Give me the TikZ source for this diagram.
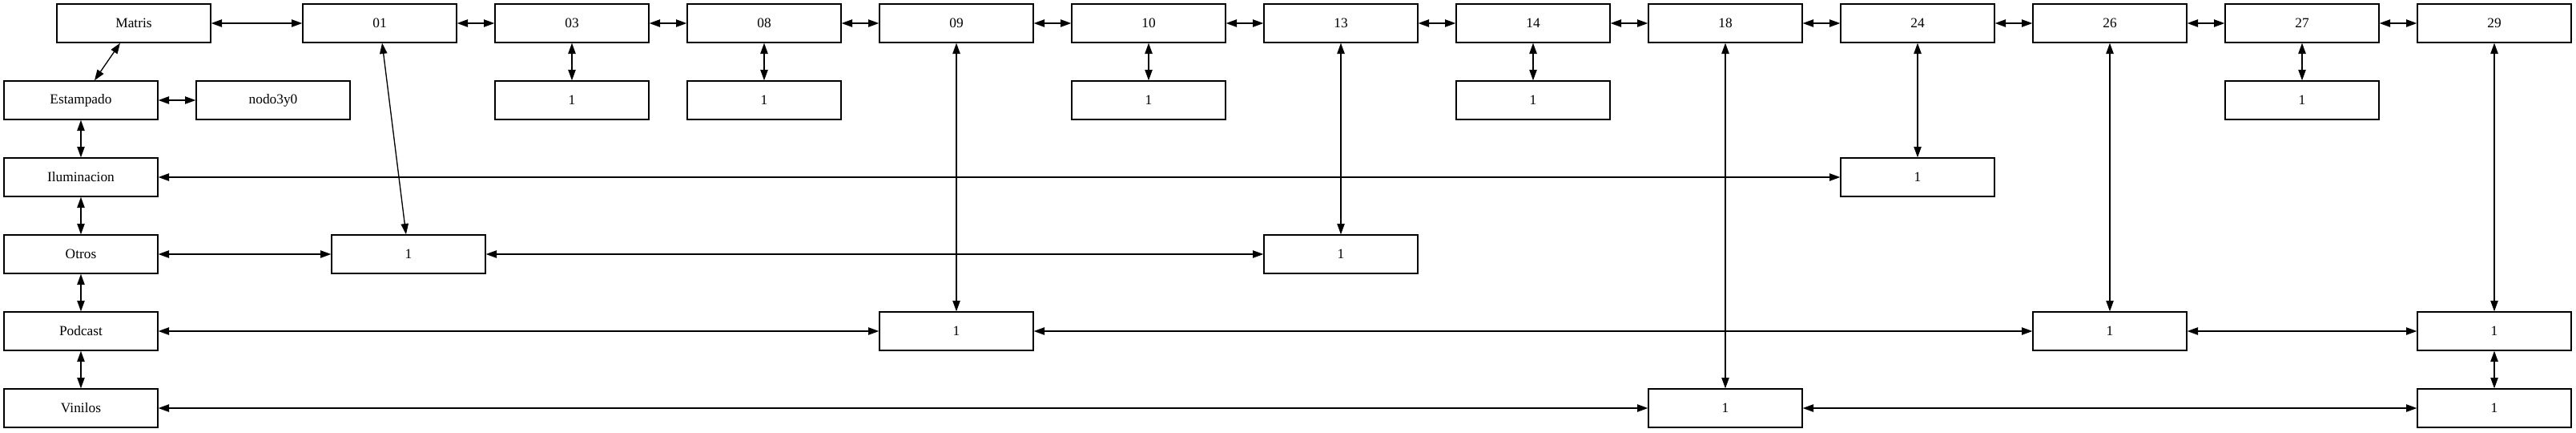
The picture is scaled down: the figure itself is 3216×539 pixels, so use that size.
\documentclass[tikz,border=0pt]{standalone}
\usepackage{fontspec}
\setmainfont{Liberation Serif}
\usepackage{tikz}
\usetikzlibrary{arrows.meta}

\tikzset{
    cell/.style={draw, rectangle, line width=1pt, minimum width=144pt, minimum height=36pt,
        inner sep=0pt, font=\fontsize{13}{15}\selectfont}
}

\begin{document}
\begin{tikzpicture}[x=0.75pt, y=-0.75pt, line width=1pt, >={Triangle[length=10pt, width=7pt]}]
    \useasboundingbox (0,0) rectangle (3216,539);

    % --- Top row ---
    \node[cell] (matris) at (167, 29) {Matris};
    \node[cell] (n01) at (474, 29) {01};
    \node[cell] (n03) at (714, 29) {03};
    \node[cell] (n08) at (954, 29) {08};
    \node[cell] (n09) at (1194, 29) {09};
    \node[cell] (n10) at (1434, 29) {10};
    \node[cell] (n13) at (1674, 29) {13};
    \node[cell] (n14) at (1914, 29) {14};
    \node[cell] (n18) at (2154, 29) {18};
    \node[cell] (n24) at (2394, 29) {24};
    \node[cell] (n26) at (2634, 29) {26};
    \node[cell] (n27) at (2874, 29) {27};
    \node[cell] (n29) at (3114, 29) {29};

    % --- Left column ---
    \node[cell] (estampado) at (101, 125) {Estampado};
    \node[cell] (nodo) at (341, 125) {nodo3y0};
    \node[cell] (ilum) at (101, 221) {Iluminacion};
    \node[cell] (otros) at (101, 317) {Otros};
    \node[cell] (podcast) at (101, 413) {Podcast};
    \node[cell] (vinilos) at (101, 509) {Vinilos};

    % --- Value cells ---
    \node[cell] (e03) at (714, 125) {1};
    \node[cell] (e08) at (954, 125) {1};
    \node[cell] (e10) at (1434, 125) {1};
    \node[cell] (e14) at (1914, 125) {1};
    \node[cell] (e27) at (2874, 125) {1};
    \node[cell] (e24) at (2394, 221) {1};
    \node[cell] (e01) at (510, 317) {1};
    \node[cell] (e13) at (1674, 317) {1};
    \node[cell] (e09) at (1194, 413) {1};
    \node[cell] (e26) at (2634, 413) {1};
    \node[cell] (e29) at (3114, 413) {1};
    \node[cell] (e18) at (2154, 509) {1};
    \node[cell] (f29) at (3114, 509) {1};

    % --- Top row chain ---
    \draw[<->] (matris) -- (n01);
    \draw[<->] (n01) -- (n03);
    \draw[<->] (n03) -- (n08);
    \draw[<->] (n08) -- (n09);
    \draw[<->] (n09) -- (n10);
    \draw[<->] (n10) -- (n13);
    \draw[<->] (n13) -- (n14);
    \draw[<->] (n14) -- (n18);
    \draw[<->] (n18) -- (n24);
    \draw[<->] (n24) -- (n26);
    \draw[<->] (n26) -- (n27);
    \draw[<->] (n27) -- (n29);

    % --- Left column chain ---
    \draw[<->] (matris) -- (estampado);
    \draw[<->] (estampado) -- (nodo);
    \draw[<->] (estampado) -- (ilum);
    \draw[<->] (ilum) -- (otros);
    \draw[<->] (otros) -- (podcast);
    \draw[<->] (podcast) -- (vinilos);

    % --- Columns down to value cells ---
    \draw[<->] (n03) -- (e03);
    \draw[<->] (n08) -- (e08);
    \draw[<->] (n10) -- (e10);
    \draw[<->] (n14) -- (e14);
    \draw[<->] (n27) -- (e27);
    \draw[<->] (n24) -- (e24);
    \draw[<->] (n01) -- (e01);
    \draw[<->] (n13) -- (e13);
    \draw[<->] (n09) -- (e09);
    \draw[<->] (n26) -- (e26);
    \draw[<->] (n29) -- (e29);
    \draw[<->] (n18) -- (e18);
    \draw[<->] (e29) -- (f29);

    % --- Rows across to value cells ---
    \draw[<->] (ilum) -- (e24);
    \draw[<->] (otros) -- (e01);
    \draw[<->] (e01) -- (e13);
    \draw[<->] (podcast) -- (e09);
    \draw[<->] (e09) -- (e26);
    \draw[<->] (e26) -- (e29);
    \draw[<->] (vinilos) -- (e18);
    \draw[<->] (e18) -- (f29);

\end{tikzpicture}
\end{document}
